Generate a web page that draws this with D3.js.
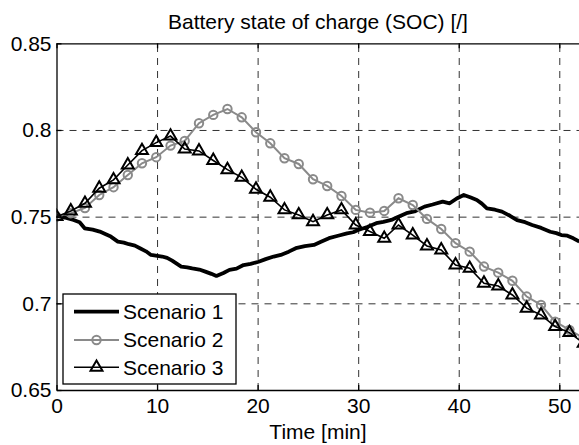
<!DOCTYPE html>
<html>
<head>
<meta charset="utf-8">
<script src="https://cdn.jsdelivr.net/npm/d3@7"></script>
<style>
  body { margin: 0; background: #fff; }
  svg { display: block; font-family: "Liberation Sans", Arial, sans-serif; }
  .grid line { stroke: #333; stroke-width: 1; stroke-dasharray: 7,6; }
  .grid path { display: none; }
  .axis path, .axis line { stroke: #000; stroke-width: 1.3; }
  .axis text { font-size: 21px; fill: #000; }
</style>
</head>
<body>
<script>
// DATA
const title = 'Battery state of charge (SOC) [/]';
const xLabel = 'Time [min]';
const xTicks = [0, 10, 20, 30, 40, 50];
const yTicks = [0.65, 0.7, 0.75, 0.8, 0.85];
const seriesNames = ['Scenario 1', 'Scenario 2', 'Scenario 3'];

// scenario 1 (continuous trace)
const time1 = [0, 0.8, 1.7, 2.3, 2.8, 3.6, 4.3, 4.9, 5.4, 6.1, 6.7, 7.2, 7.8, 8.3, 8.9, 9.4, 10.5, 11.0, 11.5, 12.4,
  13.0, 13.5, 14.2, 14.8, 15.4, 15.9, 16.6, 17.2, 17.9, 18.6, 19.3, 20.1, 20.8, 21.6, 22.3, 23.1, 23.8,
  24.7, 25.6, 26.3, 27.1, 28.0, 28.9, 29.5, 30.0, 30.9, 31.8, 32.5, 33.3, 34.0, 34.8, 35.6, 36.6, 37.4,
  38.4, 39.1, 39.8, 40.5, 41.2, 41.8, 42.3, 42.8, 43.6, 44.3, 45.1, 45.8, 46.6, 47.3, 48.2, 49.1,
  49.7, 50.2, 50.8, 51.4, 52.0];
const soc1 = [0.7504, 0.7495, 0.7481, 0.7468, 0.7433, 0.7425, 0.7414, 0.7398, 0.7385, 0.7356, 0.7350, 0.7341, 0.7333, 0.7318, 0.7300, 0.7279,
  0.7270, 0.7262, 0.7246, 0.7212, 0.7208, 0.7202, 0.7195, 0.7183, 0.7170, 0.7158, 0.7175, 0.7193, 0.7200, 0.7221, 0.7228,
  0.7240, 0.7255, 0.7270, 0.7279, 0.7298, 0.7318, 0.7330, 0.7337, 0.7355, 0.7376, 0.7390, 0.7404, 0.7410, 0.7423, 0.7440,
  0.7462, 0.7470, 0.7481, 0.7500, 0.7520, 0.7530, 0.7558, 0.7570, 0.7587, 0.7577, 0.7605, 0.7625, 0.7610, 0.7596, 0.7575,
  0.7548, 0.7540, 0.7529, 0.7505, 0.7480, 0.7468, 0.7452, 0.7435, 0.7413, 0.7405, 0.7394, 0.7390, 0.7375, 0.7356];

// scenarios 2 and 3 (sampled, with markers)
const time23 = [0, 1.42, 2.83, 4.25, 5.67, 7.09, 8.50, 9.92, 11.34, 12.75, 14.17, 15.59, 17.00, 18.42, 19.84,
  21.26, 22.67, 24.09, 25.51, 26.92, 28.34, 29.76, 31.17, 32.59, 34.01, 35.43, 36.84, 38.26, 39.68,
  41.09, 42.51, 43.93, 45.34, 46.76, 48.18, 49.59, 51.01, 52.43];
const soc2 = [0.750, 0.752, 0.755, 0.7625, 0.767, 0.774, 0.7808, 0.7843, 0.791, 0.7937, 0.8039, 0.8087, 0.8121,
  0.8073, 0.7987, 0.7923, 0.7837, 0.7804, 0.7716, 0.7677, 0.7619, 0.7539, 0.7523, 0.7533, 0.7606, 0.7567,
  0.7487, 0.7429, 0.7347, 0.7298, 0.7212, 0.7177, 0.7130, 0.7039, 0.6991, 0.6894, 0.6847, 0.6800];
const soc3 = [0.750, 0.7533, 0.7577, 0.7664, 0.7712, 0.7798, 0.7881, 0.7927, 0.7965, 0.789, 0.7879, 0.7824,
  0.7771, 0.7727, 0.7658, 0.7612, 0.7539, 0.751, 0.7471, 0.751, 0.7539, 0.7452, 0.7414, 0.7375, 0.7452,
  0.7394, 0.7331, 0.7308, 0.7221, 0.7202, 0.7116, 0.7100, 0.7048, 0.6972, 0.6933, 0.6866, 0.6831, 0.6770];

// CONFIGURATION
const width = 579;
const height = 445;
const plotLeft = 56.5, plotRight = 579.4, plotTop = 43.3, plotBottom = 390;

const xScale = d3.scaleLinear().domain([0, 52]).range([plotLeft, plotRight]);
const yScale = d3.scaleLinear().domain([0.65, 0.85]).range([plotBottom, plotTop]);

const svg = d3.select('body')
  .append('svg')
  .attr('width', width)
  .attr('height', height);

svg.append('defs').append('clipPath')
  .attr('id', 'plot-clip')
  .append('rect')
  .attr('x', plotLeft)
  .attr('y', plotTop)
  .attr('width', plotRight - plotLeft)
  .attr('height', plotBottom - plotTop);

// GRID
svg.append('g')
  .attr('class', 'grid')
  .attr('transform', `translate(0, ${plotBottom})`)
  .call(d3.axisBottom(xScale).tickValues(xTicks.slice(1)).tickSize(-(plotBottom - plotTop)).tickFormat(''));
svg.append('g')
  .attr('class', 'grid')
  .attr('transform', `translate(${plotLeft}, 0)`)
  .call(d3.axisLeft(yScale).tickValues(yTicks.slice(1, -1)).tickSize(-(plotRight - plotLeft)).tickFormat(''));

// LINES
const plot = svg.append('g').attr('clip-path', 'url(#plot-clip)');

const line = d3.line()
  .x(function(d) { return xScale(d[0]); })
  .y(function(d) { return yScale(d[1]); });

const s1 = time1.map(function(t, i) { return [t, soc1[i]]; });
const s2 = time23.map(function(t, i) { return [t, soc2[i]]; });
const s3 = time23.map(function(t, i) { return [t, soc3[i]]; });

plot.append('path')
  .datum(s1)
  .attr('fill', 'none')
  .attr('stroke', '#000')
  .attr('stroke-width', 3.8)
  .attr('stroke-linejoin', 'round')
  .attr('d', line);

plot.append('path')
  .datum(s2)
  .attr('fill', 'none')
  .attr('stroke', '#8a8a8a')
  .attr('stroke-width', 2)
  .attr('d', line);

plot.selectAll('.mark2')
  .data(s2)
  .enter()
  .append('circle')
  .attr('class', 'mark2')
  .attr('cx', function(d) { return xScale(d[0]); })
  .attr('cy', function(d) { return yScale(d[1]); })
  .attr('r', 4.2)
  .attr('fill', 'none')
  .attr('stroke', '#8a8a8a')
  .attr('stroke-width', 2);

plot.append('path')
  .datum(s3)
  .attr('fill', 'none')
  .attr('stroke', '#000')
  .attr('stroke-width', 1.6)
  .attr('d', line);

const tri = d3.symbol().type(d3.symbolTriangle).size(62);

plot.selectAll('.mark3')
  .data(s3)
  .enter()
  .append('path')
  .attr('class', 'mark3')
  .attr('d', tri)
  .attr('transform', function(d) { return `translate(${xScale(d[0])}, ${yScale(d[1])})`; })
  .attr('fill', 'none')
  .attr('stroke', '#000')
  .attr('stroke-width', 2);

// AXES (box with inward ticks)
svg.append('g')
  .attr('class', 'axis')
  .attr('transform', `translate(0, ${plotBottom})`)
  .call(d3.axisBottom(xScale).tickValues(xTicks).tickSize(-5).tickPadding(8).tickSizeOuter(0));
svg.append('g')
  .attr('class', 'axis')
  .attr('transform', `translate(${plotLeft}, 0)`)
  .call(d3.axisLeft(yScale).tickValues(yTicks).tickSize(-5).tickPadding(5).tickSizeOuter(0)
    .tickFormat(function(v) { return String(+v.toFixed(2)); }));
svg.append('g')
  .attr('class', 'axis')
  .attr('transform', `translate(0, ${plotTop})`)
  .call(d3.axisTop(xScale).tickValues(xTicks).tickSize(-5).tickSizeOuter(0).tickFormat(''));

// TITLE / LABEL
svg.append('text')
  .attr('x', (plotLeft + plotRight) / 2)
  .attr('y', 29)
  .attr('text-anchor', 'middle')
  .style('font-size', '21px')
  .text(title);
svg.append('text')
  .attr('x', (plotLeft + plotRight) / 2)
  .attr('y', 439)
  .attr('text-anchor', 'middle')
  .style('font-size', '21px')
  .text(xLabel);

// LEGEND
const legend = svg.append('g').attr('id', 'legend');
legend.append('rect')
  .attr('x', 63)
  .attr('y', 294)
  .attr('width', 173)
  .attr('height', 90)
  .attr('fill', '#fff')
  .attr('stroke', '#000')
  .attr('stroke-width', 1.3);

const legendRows = [311.7, 340, 367.3];
const legendStyles = [
  { color: '#000', width: 3.8, marker: null },
  { color: '#8a8a8a', width: 2, marker: 'circle' },
  { color: '#000', width: 1.6, marker: 'triangle' }
];
seriesNames.forEach(function(name, i) {
  const yy = legendRows[i];
  const st = legendStyles[i];
  legend.append('line')
    .attr('x1', 74).attr('x2', 119)
    .attr('y1', yy).attr('y2', yy)
    .attr('stroke', st.color)
    .attr('stroke-width', st.width);
  if (st.marker === 'circle') {
    legend.append('circle')
      .attr('cx', 96.5).attr('cy', yy).attr('r', 4.2)
      .attr('fill', 'none').attr('stroke', st.color).attr('stroke-width', 2);
  } else if (st.marker === 'triangle') {
    legend.append('path')
      .attr('d', tri)
      .attr('transform', `translate(96.5, ${yy})`)
      .attr('fill', 'none').attr('stroke', st.color).attr('stroke-width', 2);
  }
  legend.append('text')
    .attr('x', 123)
    .attr('y', yy)
    .attr('dy', '0.35em')
    .style('font-size', '21px')
    .text(name);
});
</script>
</body>
</html>
